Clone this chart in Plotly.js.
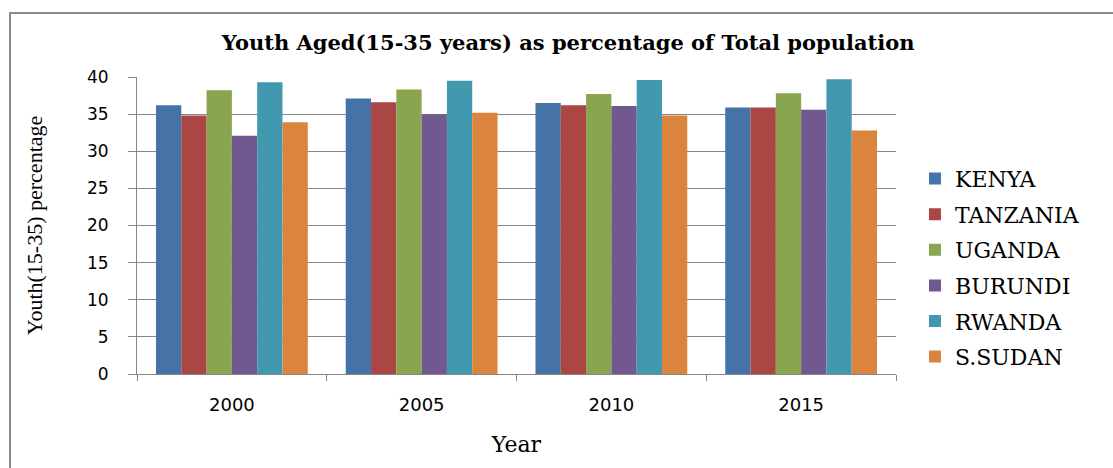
<!DOCTYPE html>
<html>
<head>
<meta charset="utf-8">
<script src="https://cdn.plot.ly/plotly-3.0.1.min.js"></script>
<style>html,body{margin:0;padding:0;background:#fff;}#chart{width:1113px;height:468px;}</style>
</head>
<body>
<div id="chart"></div>
<script>
const years = ["2000", "2005", "2010", "2015"];
const countries = ["KENYA", "TANZANIA", "UGANDA", "BURUNDI", "RWANDA", "S.SUDAN"];
const kenya    = [36.2, 37.1, 36.5, 35.9];
const tanzania = [34.8, 36.6, 36.2, 35.9];
const uganda   = [38.2, 38.3, 37.7, 37.8];
const burundi  = [32.1, 35.0, 36.1, 35.6];
const rwanda   = [39.3, 39.5, 39.6, 39.7];
const ssudan   = [33.9, 35.2, 34.8, 32.8];
const seriesValues = [kenya, tanzania, uganda, burundi, rwanda, ssudan];
const colors = ["#4572A7", "#AA4643", "#89A54E", "#71588F", "#4198AF", "#DB843D"];

const traces = countries.map((name, i) => ({
  type: "bar",
  name: name,
  x: years,
  y: seriesValues[i],
  legendgroup: "g" + i,
  marker: {color: colors[i], line: {width: 0}},
  hoverinfo: "x+y+name"
}));

const gray = "#868686";
const layout = {
  width: 1113,
  height: 468,
  margin: {l: 137, r: 217, t: 77, b: 94, pad: 0},
  paper_bgcolor: "#ffffff",
  plot_bgcolor: "#ffffff",
  barmode: "group",
  bargap: 0.2,
  bargroupgap: 0,
  title: {
    text: "<b>Youth Aged(15-35 years) as percentage of Total population</b>",
    font: {family: "DejaVu Serif", size: 21, color: "#000"},
    x: 0.568, xanchor: "center", y: 0.908, yanchor: "middle", xref: "paper"
  },
  xaxis: {
    type: "category",
    showline: true, linecolor: gray, linewidth: 1,
    ticks: "outside", ticklen: 6, tickcolor: gray, tickson: "boundaries",
    ticklabelstandoff: 14,
    tickfont: {family: "DejaVu Sans", size: 18, color: "#000"},
    showgrid: false, zeroline: false,
    title: {text: "Year", font: {family: "DejaVu Serif", size: 22, color: "#000"}, standoff: 23}
  },
  yaxis: {
    range: [0, 40],
    dtick: 5, tick0: 0,
    showline: true, linecolor: gray, linewidth: 1,
    ticks: "outside", ticklen: 8, tickcolor: gray,
    ticklabelstandoff: 16,
    tickfont: {family: "DejaVu Sans", size: 17, color: "#000"},
    showgrid: true, gridcolor: gray, gridwidth: 1,
    zeroline: false,
    title: {text: "Youth(15-35) percentage", font: {family: "Liberation Serif", size: 22, color: "#000"}, standoff: 38}
  },
  legend: {
    x: 1.025, xanchor: "left", y: 0.728, yanchor: "top",
    font: {family: "DejaVu Serif", size: 22, color: "#000"},
    tracegroupgap: 4,
    bgcolor: "rgba(0,0,0,0)",
    itemclick: false
  },
  showlegend: true,
  shapes: [{
    type: "rect", xref: "paper", yref: "paper",
    x0: (10 - 137) / 759, x1: (1125 - 137) / 759,
    y0: (374 - 480) / 297, y1: (374 - 13) / 297,
    line: {color: "#8a8a8a", width: 2}, fillcolor: "rgba(0,0,0,0)", layer: "below"
  }]
};

Plotly.newPlot("chart", traces, layout, {displayModeBar: false, staticPlot: true});
</script>
</body>
</html>
